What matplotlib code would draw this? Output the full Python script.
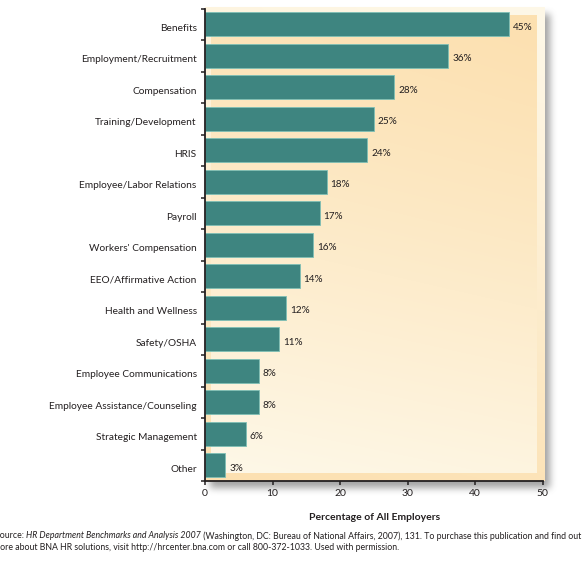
import matplotlib
matplotlib.use('Agg')
import matplotlib.pyplot as plt
from matplotlib.transforms import ScaledTranslation
import numpy as np

plt.rcParams['font.family'] = ['Lato', 'DejaVu Sans']

# 数据
categories = ['Benefits', 'Employment/Recruitment', 'Compensation', 'Training/Development',
              'HRIS', 'Employee/Labor Relations', 'Payroll', "Workers' Compensation",
              'EEO/Affirmative Action', 'Health and Wellness', 'Safety/OSHA',
              'Employee Communications', 'Employee Assistance/Counseling',
              'Strategic Management', 'Other']
values = [45, 36, 28, 25, 24, 18, 17, 16, 14, 12, 11, 8, 8, 6, 3]
x_ticks = [0, 10, 20, 30, 40, 50]
x_label = 'Percentage of All Employers'

TEXT = '#231F20'
BAR = '#3E8580'
PEACH = np.array([252, 224, 176]) / 255
CREAM = np.array([254, 248, 232]) / 255

W, H = 588, 574
fig = plt.figure(figsize=(W / 100, H / 100), dpi=100)

# 阴影背景
bg = fig.add_axes([0, 0, 1, 1], zorder=0)
bg.axis('off')
mask = np.zeros((H, W))
mask[14:488, 210:550] = 1.0


def box_blur(a, r, axis):
    k = np.ones(2 * r + 1) / (2 * r + 1)
    return np.apply_along_axis(lambda v: np.convolve(v, k, mode='same'), axis, a)


for _ in range(3):
    mask = box_blur(mask, 3, 0)
    mask = box_blur(mask, 3, 1)
shadow = np.zeros((H, W, 4))
shadow[..., :3] = 0.35
shadow[..., 3] = mask * 0.55
bg.imshow(shadow, extent=(0, 1, 0, 1), aspect='auto', interpolation='bilinear')
bg.set_xlim(0, 1)
bg.set_ylim(0, 1)

ax = fig.add_axes([205 / W, 93 / H, 337.7 / W, 472.5 / H], zorder=1)
ax.patch.set_visible(False)

pos = np.arange(len(categories))


def gradient(n, m, flip):
    yy, xx = np.mgrid[0:1:n * 1j, 0:1:m * 1j]
    t = 0.85 * yy ** 1.2 + 0.15 * (1 - xx)  # 0 = 顶部, 1 = 底部
    t = np.clip(t, 0, 1)
    if flip:
        t = 1 - t
    img = PEACH[None, None, :] * (1 - t[..., None]) + CREAM[None, None, :] * t[..., None]
    return img


# 外框和内框渐变
ax.imshow(gradient(200, 200, True), extent=(0, 50.2, 14.5, -0.52), aspect='auto',
          zorder=0.5, clip_on=False, interpolation='bilinear')
ax.imshow(gradient(200, 200, False), extent=(0.95, 49.1, 14.25, -0.27), aspect='auto',
          zorder=0.6, clip_on=False, interpolation='bilinear')
ax.set_xlim(0, 50)
ax.set_ylim(14.5, -0.5)

ax.barh(pos, values, height=0.75, color=BAR, edgecolor='#7FBFB5', linewidth=0.6, zorder=3)

for p, v in zip(pos, values):
    ax.annotate(f'{v}%', xy=(v, p), xytext=(2.8, -2.2), textcoords='offset points',
                ha='left', va='center', fontsize=7.2, color=TEXT, zorder=4)

for s in ['top', 'right']:
    ax.spines[s].set_visible(False)
for s in ['left', 'bottom']:
    ax.spines[s].set_color('#231F20')
    ax.spines[s].set_linewidth(1.3)
    ax.spines[s].set_zorder(5)

ax.set_yticks(pos)
ax.set_yticklabels(categories, fontsize=7.3, color=TEXT)
ax.set_yticks(np.arange(-0.5, 15, 1), minor=True)
ax.tick_params(axis='y', which='major', length=0, pad=6)
ax.tick_params(axis='y', which='minor', length=3, width=1.1, color='#231F20')
off = ScaledTranslation(0, -0.03, fig.dpi_scale_trans)
for lab in ax.get_yticklabels():
    lab.set_transform(lab.get_transform() + off)

ax.set_xticks(x_ticks)
ax.set_xticklabels([str(t) for t in x_ticks], fontsize=7.5, color=TEXT)
ax.tick_params(axis='x', length=3, width=1.1, color='#231F20', pad=3)

fig.text(375 / W, 1 - 517 / H, x_label, ha='center', va='center', fontsize=7.5,
         fontweight='bold', color=TEXT)

# 来源说明 (左侧被裁切, 与原图一致)
renderer = fig.canvas.get_renderer()


def text_line(x_px, y_px, parts, size=6.3):
    x = x_px
    for s, style in parts:
        t = fig.text(x / W, 1 - y_px / H, s, ha='left', va='center', fontsize=size,
                     style=style, color=TEXT)
        x += t.get_window_extent(renderer).width


text_line(-5, 536, [('Source: ', 'normal'),
                    ('HR Department Benchmarks and Analysis 2007', 'italic'),
                    (' (Washington, DC: Bureau of National Affairs, 2007), 131. '
                     'To purchase this publication and find out', 'normal')])
text_line(-7, 547, [('more about BNA HR solutions, visit http://hrcenter.bna.com or call '
                     '800-372-1033. Used with permission.', 'normal')])

fig.savefig('out.png', dpi=100)
